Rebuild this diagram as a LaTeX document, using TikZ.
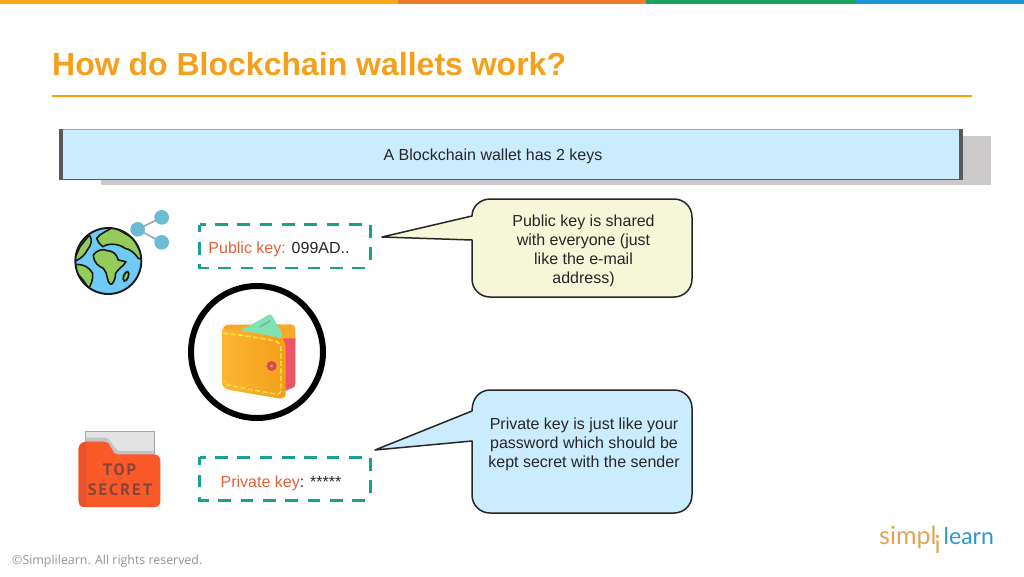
\documentclass[tikz,border=0pt]{standalone}
\usepackage{fontspec}
\setmainfont{Liberation Sans}
\newfontfamily\footfont{Open Sans}
\newfontfamily\logofont{Lato}
\newfontfamily\secretfont[LetterSpace=12]{PT Sans}
\usetikzlibrary{shadings}
\definecolor{ttl}{HTML}{F5A01C}
\definecolor{ruleO}{HTML}{FF9A00}
\definecolor{barA}{HTML}{F9A61E}
\definecolor{barB}{HTML}{EF7A2C}
\definecolor{barC}{HTML}{1AA35A}
\definecolor{barD}{HTML}{1C95D8}
\definecolor{bann}{HTML}{CBECFE}
\definecolor{shad}{HTML}{CBC9C9}
\definecolor{edge}{HTML}{565A5E}
\definecolor{tealk}{HTML}{17A18E}
\definecolor{keyred}{HTML}{E0623A}
\definecolor{callY}{HTML}{F5F7D8}
\definecolor{ocean}{HTML}{6FCBF5}
\definecolor{land}{HTML}{93CC5A}
\definecolor{share}{HTML}{6DBBD3}
\definecolor{shareL}{HTML}{8FA8B2}
\definecolor{fold}{HTML}{FA5A2A}
\definecolor{foldD}{HTML}{E9502C}
\definecolor{foldT}{HTML}{84463A}
\definecolor{logoO}{HTML}{E2A45A}
\definecolor{logoB}{HTML}{2F97C9}
\definecolor{walA}{HTML}{FBB634}
\definecolor{walB}{HTML}{F39E1A}
\definecolor{walBack}{HTML}{F7A92C}
\definecolor{walRed}{HTML}{EE5468}
\definecolor{walCard}{HTML}{7FE3B4}
\definecolor{walSt}{HTML}{FFE347}
\definecolor{walBtn}{HTML}{D8475C}
\tikzset{
  keybox/.style={minimum width=170.5pt,minimum height=43pt,inner sep=0pt},
  keydash/.style={draw=tealk,line width=2.8pt,dash pattern=on 12.7pt off 9.6pt},
  bodytxt/.style={font=\fontsize{16}{19}\selectfont,text=black!85,inner sep=0pt,align=center},
  callout/.style={draw=black!85,line width=1.5pt,line join=round},
  globeline/.style={draw=black!90,line width=1.6pt,line join=round},
  logotxt/.style={inner sep=0pt,font=\logofont\fontsize{25}{30}\selectfont},
  secrettxt/.style={anchor=base,inner sep=0pt,text=foldT,font=\secretfont\bfseries\fontsize{16.5}{19}\selectfont},
}
\begin{document}
\begin{tikzpicture}[x=1pt,y=-1pt]
\useasboundingbox (0,0) rectangle (1024,576);
\fill[white] (0,0) rectangle (1024,576);
% top bar
\fill[barA] (0,0) rectangle (398,4);
\fill[barB] (398,0) rectangle (646,4);
\fill[barC] (646,0) rectangle (856,4);
\fill[barD] (856,0) rectangle (1024,4);
% title
\node[anchor=base west,inner sep=0pt,text=ttl,font=\bfseries\fontsize{32}{36}\selectfont] (title) at (52,75) {How do Blockchain wallets work?};
\fill[ruleO] (52,94.5) rectangle (972,96.5);
% banner
\fill[shad] (101,136) rectangle (991,185);
\fill[bann] (60,130) rectangle (962,179.5);
\draw[black!35,line width=1pt] (60,129.5) -- (962,129.5);
\draw[edge,line width=1pt] (60,179.7) -- (962,179.7);
\fill[edge] (59,129) rectangle (63,180);
\fill[edge] (959,129) rectangle (963,180);
\node[bodytxt,anchor=base] (banner) at (493,160) {A Blockchain wallet has 2 keys};
% key boxes
\node[keybox] (pub) at (285.25,246.25) {};
\node[keybox] (priv) at (285.25,479) {};
\draw[keydash,dash phase=7pt] (pub.north west) -- (pub.north east) -- (pub.south east);
\draw[keydash,dash phase=5pt] (pub.north west) -- (pub.south west) -- (pub.south east);
\draw[keydash,dash phase=7pt] (priv.north west) -- (priv.north east) -- (priv.south east);
\draw[keydash,dash phase=5pt] (priv.north west) -- (priv.south west) -- (priv.south east);
\node[bodytxt,anchor=base] (pubt) at (279,253.5) {\textcolor{keyred}{Public key:} 099AD..};
\node[bodytxt,anchor=base] (privt) at (281,487) {\textcolor{keyred}{Private key}: *****};
% callouts
\draw[callout,fill=callY] (472,240) -- (472,279) .. controls (472,289) and (480,297) .. (490,297) -- (674,297) .. controls (684,297) and (692,289) .. (692,279) -- (692,217) .. controls (692,207) and (684,199) .. (674,199) -- (490,199) .. controls (480,199) and (472,207) .. (472,216) -- (382,237) -- cycle;
\node[bodytxt] (pubc) at (583.5,250.5) {Public key is shared\\with everyone (just\\like the e-mail\\address)};
\draw[callout,fill=bann] (472,441) -- (472,495) .. controls (472,505) and (480,513) .. (490,513) -- (674,513) .. controls (684,513) and (692,505) .. (692,495) -- (692,408) .. controls (692,398) and (684,390) .. (674,390) -- (490,390) .. controls (480,390) and (472,398) .. (472,411) -- (375,450) -- cycle;
\node[bodytxt] (privc) at (584,444.5) {Private key is just like your\\password which should be\\kept secret with the sender};
% wallet circle
\draw[black,line width=6pt] (257,352) circle[radius=66];
% globe (3x units of the crop at 70,205)
\begin{scope}[shift={(70,205)},x=0.3333pt,y=-0.3333pt]
  \draw[shareL,line width=1.6pt] (275,37) -- (203,73) -- (275,112);
  \fill[share] (275,37) circle[radius=22] (203,73) circle[radius=22] (275,112) circle[radius=22];
  \fill[ocean] (115,168) circle[radius=99];
  \begin{scope}
    \clip (115,168) circle[radius=99];
    \draw[globeline,fill=land] (80,100) .. controls (90,85) and (110,80) .. (130,65) -- (190,100) -- (225,165) -- (205,160) .. controls (195,145) and (180,132) .. (165,130) .. controls (150,118) and (120,112) .. (98,125) .. controls (90,118) and (82,110) .. (80,100) -- cycle;
    \draw[globeline,fill=land] (70,150) .. controls (80,135) and (100,130) .. (112,137) .. controls (125,137) and (140,145) .. (145,165) -- (168,170) .. controls (160,185) and (145,190) .. (137,205) .. controls (137,222) and (128,240) .. (122,238) .. controls (110,235) and (115,205) .. (100,190) .. controls (85,183) and (72,175) .. (70,150) -- cycle;
    \draw[globeline,fill=land] (10,170) -- (30,125) -- (58,90) .. controls (68,105) and (65,118) .. (52,135) .. controls (45,150) and (32,160) .. (22,165) -- cycle;
    \draw[globeline,fill=land] (5,178) .. controls (25,178) and (50,175) .. (68,205) .. controls (70,225) and (62,240) .. (56,250) .. controls (40,225) and (25,205) .. (5,195) -- cycle;
  \end{scope}
  \draw[black!90,line width=1.7pt,fill=land] (168,214) ellipse[x radius=7,y radius=15,rotate=-20];
  \draw[black!90,line width=1.9pt] (115,168) circle[radius=99];
\end{scope}
% wallet (3x units of the crop at 215,310)
\begin{scope}[shift={(215,310)},x=0.3333pt,y=-0.3333pt]
  \fill[walBack] (24,62) .. controls (24,50) and (30,44) .. (42,44) -- (225,43) .. controls (236,43) and (241,50) .. (241,60) -- (241,100) -- (24,100) -- cycle;
  \fill[walRed] (205,85) -- (241,85) -- (241,222) .. controls (241,228) and (238,232) .. (232,234) -- (205,245) -- cycle;
  \fill[walCard] (72,65) -- (162,14) .. controls (168,12) and (170,14) .. (172,18) -- (202,72) -- (190,95) -- (130,95) -- cycle;
  \draw[walCard!60!black!70!white,line width=1.4pt,line cap=round] (135,50) -- (165,33);
  \shade[left color=walA,right color=walB] (22,58) .. controls (80,60) and (140,72) .. (185,82) .. controls (205,86) and (212,96) .. (212,112) -- (212,250) .. controls (212,262) and (202,267) .. (190,265) -- (45,240) .. controls (30,237) and (22,230) .. (22,218) -- cycle;
  \draw[walSt,line width=1.5pt,dash pattern=on 5pt off 2.5pt] (25,70) .. controls (80,74) and (130,84) .. (175,92) .. controls (192,95) and (198,104) .. (198,118) -- (198,238) .. controls (198,250) and (192,254) .. (180,252) -- (50,228) .. controls (35,224) and (30,222) .. (28,212);
  \fill[walBtn] (170,168) circle[radius=15];
  \fill[walBack] (170,168) circle[radius=4.5];
\end{scope}
% folder (3x units of the crop at 72,425)
\begin{scope}[shift={(72,425)},x=0.3333pt,y=-0.3333pt]
  \fill[black!11] (40,20) rectangle (247,100);
  \draw[black!35,line width=0.5pt] (40,50) -- (40,20) -- (247,20) -- (247,90);
  \fill[black!24] (40,38) -- (100,38) .. controls (120,42) and (125,78) .. (145,78) -- (247,78) -- (247,95) -- (40,95) -- cycle;
  \fill[fold] (20,72) .. controls (20,58) and (30,50) .. (45,50) -- (95,50) .. controls (125,52) and (112,88) .. (140,88) -- (245,88) .. controls (258,88) and (265,96) .. (265,108) -- (265,228) .. controls (265,240) and (258,246) .. (248,246) -- (38,246) .. controls (28,246) and (20,240) .. (20,228) -- cycle;
  \fill[foldD] (20,72) .. controls (20,60) and (30,52) .. (43,50) -- (43,246) -- (38,246) .. controls (28,246) and (20,240) .. (20,228) -- cycle;
\end{scope}
\node[secrettxt] (secret1) at (119.5,475.5) {TOP};
\node[secrettxt] (secret2) at (120,495.5) {SECRET};
% footer
\node[anchor=base west,inner sep=0pt,text=black!42,font=\footfont\fontsize{12.4}{15}\selectfont] (foot) at (12,564) {©Simplilearn. All rights reserved.};
% logo
\node[logotxt,anchor=base west,text=logoO] (logoa) at (879,544) {simpl};
\node[logotxt,anchor=base,text=logoO] (logoi) at (937.5,553) {i};
\node[logotxt,anchor=base west,text=logoB,font=\logofont\fontsize{23}{30}\selectfont] (logob) at (943.5,544) {learn};
\end{tikzpicture}
\end{document}
